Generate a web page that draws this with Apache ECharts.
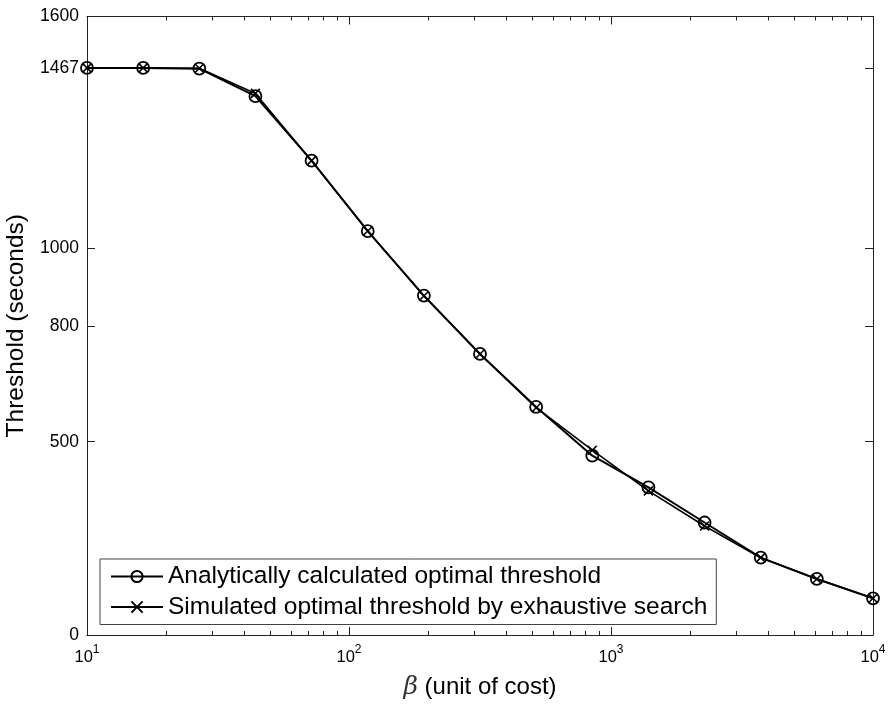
<!DOCTYPE html>
<html><head><meta charset="utf-8">
<script src="https://cdn.jsdelivr.net/npm/echarts@6/dist/echarts.min.js"></script>
<style>html,body{margin:0;padding:0;background:#fff}#c{width:888px;height:705px}</style>
</head><body><div id="c"></div>
<script>
const betaValues = [10, 16.38, 26.83, 43.94, 71.97, 117.9, 193.1, 316.2, 517.9, 848.3, 1389.5, 2275.8, 3727.6, 6105.4, 10000];
const analyticThreshold = [1467, 1467, 1465, 1394, 1227, 1045, 878, 727, 590, 464, 382, 291, 200, 145, 95];
const simulatedThreshold = [1467, 1467, 1466, 1401, 1227, 1045, 877, 727, 588, 478, 373, 282, 200, 145, 95];
const yTickValues = [0, 500, 800, 1000, 1467, 1600];
const xMajorTicks = [10, 100, 1000, 10000];
const xMinorTicks = [20, 30, 40, 50, 60, 70, 80, 90, 200, 300, 400, 500, 600, 700, 800, 900, 2000, 3000, 4000, 5000, 6000, 7000, 8000, 9000];
const seriesNames = ['Analytically calculated optimal threshold', 'Simulated optimal threshold by exhaustive search'];
const xAxisTitle = '{g|\u03b2} (unit of cost)';
const yAxisTitle = 'Threshold (seconds)';

const FONT = "'Liberation Sans', Arial, Helvetica, sans-serif";
const AX = '#222';
const chart = echarts.init(document.getElementById('c'), null, {renderer: 'canvas'});

function xAxisBase(position, showLine, ticks, len, labels) {
  return {
    type: 'log', logBase: 10, min: 10, max: 10000, position: position, gridIndex: 0,
    axisLine: {show: showLine, onZero: false, lineStyle: {color: AX, width: 1}},
    axisTick: {show: true, inside: true, length: len, customValues: ticks, lineStyle: {color: AX, width: 1}},
    axisLabel: labels ? {
      show: true, margin: 9, customValues: xMajorTicks,
      formatter: v => '{b|10}{s|' + Math.round(Math.log10(v)) + '}',
      rich: {
        b: {fontSize: 16.5, fontFamily: FONT, color: '#000', lineHeight: 22, verticalAlign: 'bottom'},
        s: {fontSize: 12, fontFamily: FONT, color: '#000', lineHeight: 12, verticalAlign: 'top'}
      }
    } : {show: false},
    splitLine: {show: false}
  };
}

const xAxes = [
  Object.assign(xAxisBase('bottom', true, xMajorTicks, 8, true), {
    name: xAxisTitle, nameLocation: 'middle', nameGap: 40,
    nameTextStyle: {fontSize: 24, fontFamily: FONT, color: '#000',
      rich: {g: {fontSize: 25, fontStyle: 'italic', fontFamily: "'DejaVu Serif', 'Liberation Serif', serif", color: '#333'}}}
  }),
  xAxisBase('bottom', false, xMinorTicks, 4, false),
  xAxisBase('top', true, xMajorTicks, 8, false),
  xAxisBase('top', false, xMinorTicks, 4, false)
];

const yAxes = [
  {
    type: 'value', min: 0, max: 1600, position: 'left', gridIndex: 0,
    axisLine: {show: true, onZero: false, lineStyle: {color: AX, width: 1}},
    axisTick: {show: true, inside: true, length: 8, customValues: yTickValues, lineStyle: {color: AX}},
    axisLabel: {show: true, margin: 8, customValues: yTickValues, formatter: v => String(v), fontSize: 17.5, fontFamily: FONT, color: '#000'},
    splitLine: {show: false},
    name: yAxisTitle, nameLocation: 'middle', nameGap: 50,
    nameTextStyle: {fontSize: 24.5, fontFamily: FONT, color: '#000'}
  },
  {
    type: 'value', min: 0, max: 1600, position: 'right', gridIndex: 0,
    axisLine: {show: true, onZero: false, lineStyle: {color: AX, width: 1}},
    axisTick: {show: true, inside: true, length: 8, customValues: yTickValues, lineStyle: {color: AX}},
    axisLabel: {show: false},
    splitLine: {show: false}
  }
];

const crossPath = 'path://M0,0L10,10M10,0L0,10';

chart.setOption({
  animation: false,
  backgroundColor: '#fff',
  grid: {left: 87, right: 15, top: 16.5, bottom: 70, outerBoundsMode: 'none'},
  xAxis: xAxes,
  yAxis: yAxes,
  legend: {
    orient: 'vertical', left: 100, top: 559, padding: [5, 9, 5, 10], itemGap: 5.5,
    itemWidth: 52, itemHeight: 14, borderColor: '#444', borderWidth: 1, backgroundColor: '#fff',
    align: 'left', data: seriesNames, selectedMode: false,
    textStyle: {fontSize: 24.5, fontFamily: FONT, color: '#000'}
  },
  series: [
    {
      name: seriesNames[0], type: 'line', xAxisIndex: 0, yAxisIndex: 0,
      data: betaValues.map((x, i) => [x, analyticThreshold[i]]),
      symbol: 'circle', symbolSize: 12, showSymbol: true, showAllSymbol: true,
      lineStyle: {color: '#000', width: 2},
      itemStyle: {color: 'rgba(255,255,255,0)', borderColor: '#000', borderWidth: 1.8},
      emphasis: {disabled: true}, z: 2
    },
    {
      name: seriesNames[1], type: 'line', xAxisIndex: 0, yAxisIndex: 0,
      data: betaValues.map((x, i) => [x, simulatedThreshold[i]]),
      symbol: crossPath, symbolSize: 9, showSymbol: true, showAllSymbol: true,
      lineStyle: {color: '#000', width: 1.6},
      itemStyle: {color: 'none', borderColor: '#000', borderWidth: 1.6},
      emphasis: {disabled: true}, z: 3
    }
  ]
});
</script></body></html>
